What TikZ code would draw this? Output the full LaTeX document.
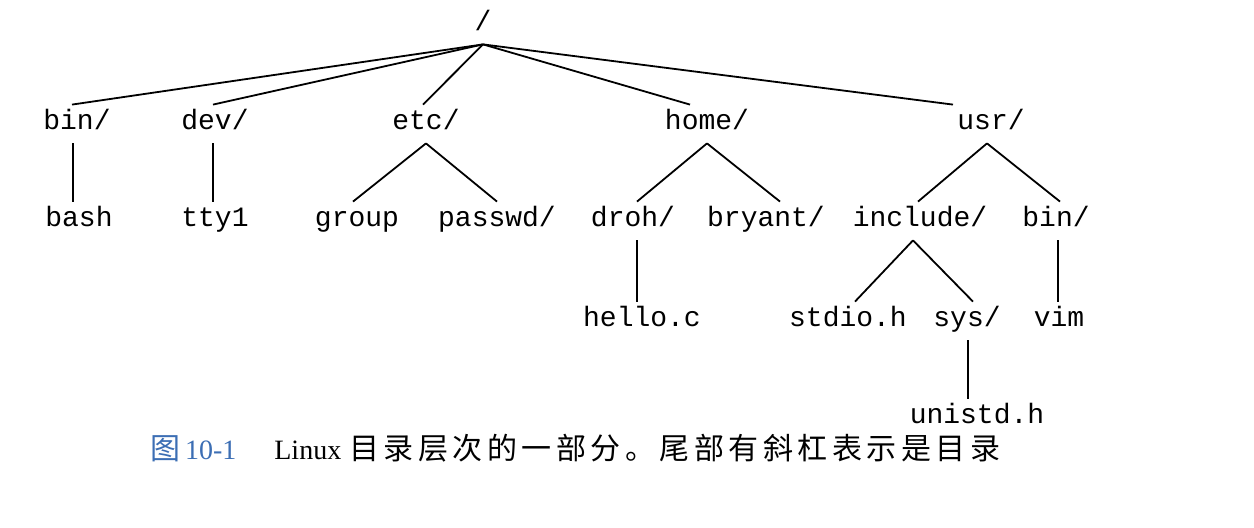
\documentclass[tikz,border=0pt]{standalone}
\usepackage{fontspec}
\setmainfont{Liberation Serif}
\setmonofont{Liberation Mono}
\newfontfamily\cjk[LetterSpace=15]{Noto Sans CJK SC}
\usepackage{tikz}
\usetikzlibrary{positioning}
\definecolor{capblue}{RGB}{60,110,180}
\tikzstyle{fname} = [font=\ttfamily\fontsize{14pt}{16pt}\selectfont,
    text height=8pt, text depth=2pt, inner xsep=0pt, inner ysep=4.5pt, anchor=base]
\tikzstyle{link} = [line width=0.9pt]
\newcommand{\cn}[1]{{\cjk\fontsize{15pt}{18pt}\selectfont #1}}

\begin{document}
\begin{tikzpicture}[x=0.5pt, y=-0.5pt]
  \useasboundingbox (0,0) rectangle (1254,528);
  % Place nodes
  \node [fname] (root) at (483,31) {/};
  \node [fname] (bin) at (77,130) {bin/};
  \node [fname] (dev) at (215,130) {dev/};
  \node [fname] (etc) at (426,130) {etc/};
  \node [fname] (home) at (707,130) {home/};
  \node [fname] (usr) at (991,130) {usr/};
  \node [fname] (bash) at (79,227) {bash};
  \node [fname] (tty) at (215,227) {tty1};
  \node [fname] (group) at (357,227) {group};
  \node [fname] (passwd) at (497,227) {passwd/};
  \node [fname] (droh) at (633,227) {droh/};
  \node [fname] (bryant) at (766,227) {bryant/};
  \node [fname] (include) at (920,227) {include/};
  \node [fname] (usrbin) at (1056,227) {bin/};
  \node [fname] (hello) at (642,327) {hello.c};
  \node [fname] (stdio) at (848,327) {stdio.h};
  \node [fname] (sys) at (967,327) {sys/};
  \node [fname] (vim) at (1059,327) {vim};
  \node [fname] (unistd) at (977,424) {unistd.h};
  % Caption
  \node [anchor=base west, inner sep=0pt, font=\fontsize{14pt}{18pt}\selectfont] (cap) at (150,460)
    {{\color{capblue}\cn{图}\,10-1}\hspace{19pt}Linux\hspace{4pt}\cn{目录层次的一部分。尾部有斜杠表示是目录}};
  % Draw edges
  \draw [link] (root.south) -- ([xshift=-2.5pt]bin.north);
  \draw [link] (root.south) -- ([xshift=-1pt]dev.north);
  \draw [link] (root.south) -- ([xshift=-1.5pt]etc.north);
  \draw [link] (root.south) -- ([xshift=-8.5pt]home.north);
  \draw [link] (root.south) -- ([xshift=-19pt]usr.north);
  \draw [link] ([xshift=-2pt]bin.south) -- ([xshift=-2pt]bin.south |- bash.north);
  \draw [link] ([xshift=-1pt]dev.south) -- ([xshift=-1pt]dev.south |- tty.north);
  \draw [link] (etc.south) -- ([xshift=-2pt]group.north);
  \draw [link] (etc.south) -- (passwd.north);
  \draw [link] (home.south) -- ([xshift=2pt]droh.north);
  \draw [link] (home.south) -- ([xshift=7pt]bryant.north);
  \draw [link] ([xshift=2pt]droh.south) -- ([xshift=2pt]droh.south |- hello.north);
  \draw [link] ([xshift=-2pt]usr.south) -- ([xshift=-1pt]include.north);
  \draw [link] ([xshift=-2pt]usr.south) -- ([xshift=2pt]usrbin.north);
  \draw [link] ([xshift=1pt]usrbin.south) -- ([xshift=1pt]usrbin.south |- vim.north);
  \draw [link] ([xshift=-3.5pt]include.south) -- ([xshift=3.5pt]stdio.north);
  \draw [link] ([xshift=-3.5pt]include.south) -- ([xshift=3pt]sys.north);
  \draw [link] ([xshift=0.5pt]sys.south) -- ([xshift=0.5pt]sys.south |- unistd.north);
\end{tikzpicture}
\end{document}
